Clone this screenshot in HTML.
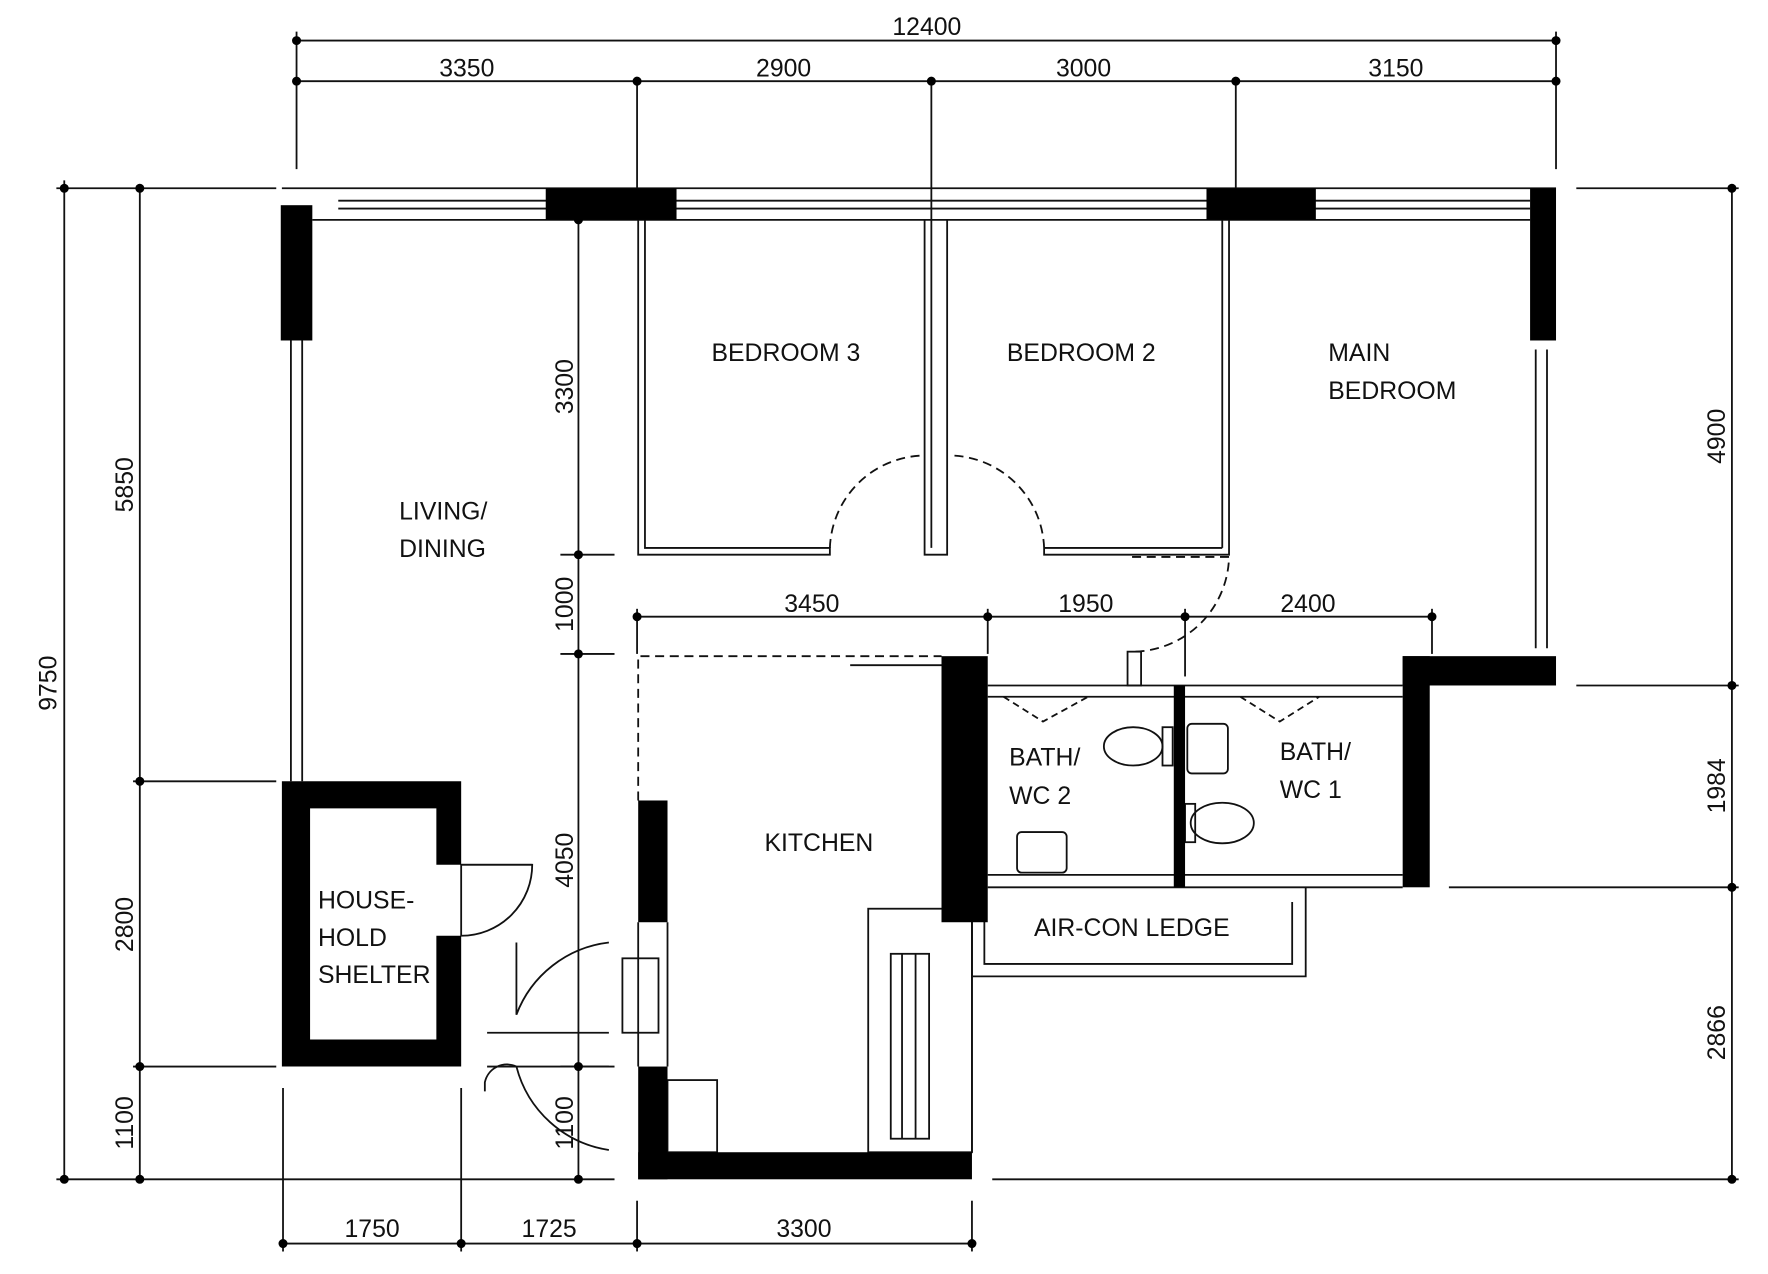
<!DOCTYPE html>
<html><head><meta charset="utf-8"><style>
html,body{margin:0;padding:0;background:#fff;}
svg{display:block;}
text{font-family:"Liberation Sans",sans-serif;font-size:22px;fill:#111;}
</style></head><body>
<svg width="1768" height="1274" viewBox="0 0 1568 1130" preserveAspectRatio="none" xmlns="http://www.w3.org/2000/svg">
<g stroke="#111" stroke-width="1.6" fill="none">
<!-- top dims -->
<line x1="263" y1="36" x2="1380" y2="36"/>
<line x1="263" y1="72" x2="1380" y2="72"/>
<line x1="263" y1="28" x2="263" y2="150"/>
<line x1="1380" y1="28" x2="1380" y2="150"/>
<line x1="565" y1="72" x2="565" y2="195"/>
<line x1="826" y1="72" x2="826" y2="195"/>
<line x1="1096" y1="72" x2="1096" y2="195"/>
<!-- left dims -->
<line x1="57" y1="160" x2="57" y2="1046"/>
<line x1="124" y1="167" x2="124" y2="1046"/>
<line x1="50" y1="167" x2="245" y2="167"/>
<line x1="118" y1="693" x2="245" y2="693"/>
<line x1="118" y1="946" x2="245" y2="946"/>
<line x1="50" y1="1046" x2="545" y2="1046"/>
<!-- right dims -->
<line x1="1536" y1="167" x2="1536" y2="1046"/>
<line x1="1398" y1="167" x2="1542" y2="167"/>
<line x1="1398" y1="608" x2="1542" y2="608"/>
<line x1="1285" y1="787" x2="1542" y2="787"/>
<line x1="880" y1="1046" x2="1542" y2="1046"/>
<!-- interior dim 513 -->
<line x1="513" y1="195" x2="513" y2="1046"/>
<line x1="497" y1="492" x2="545" y2="492"/>
<line x1="497" y1="580" x2="545" y2="580"/>
<line x1="497" y1="946" x2="545" y2="946"/>
<!-- mid dim -->
<line x1="565" y1="547" x2="1270" y2="547"/>
<line x1="565" y1="540" x2="565" y2="580"/>
<line x1="876" y1="540" x2="876" y2="580"/>
<line x1="1051" y1="540" x2="1051" y2="600"/>
<line x1="1270" y1="540" x2="1270" y2="580"/>
<!-- bottom dims -->
<line x1="251" y1="1103" x2="862" y2="1103"/>
<line x1="251" y1="965" x2="251" y2="1110"/>
<line x1="409" y1="965" x2="409" y2="1110"/>
<line x1="565" y1="1065" x2="565" y2="1110"/>
<line x1="862" y1="1065" x2="862" y2="1110"/>
<!-- walls thin -->
<line x1="250" y1="167" x2="1380" y2="167"/>
<line x1="277" y1="195" x2="1357" y2="195"/>
<line x1="300" y1="185" x2="1357" y2="185"/>
<line x1="300" y1="178" x2="1357" y2="178"/>
<line x1="258" y1="302" x2="258" y2="693"/>
<line x1="268" y1="302" x2="268" y2="693"/>
<line x1="1362" y1="310" x2="1362" y2="575"/>
<line x1="1372" y1="310" x2="1372" y2="575"/>
<!-- bedrooms -->
<polyline points="566,195 566,492 736,492 736,486 572,486 572,195"/>
<polyline points="820,195 820,492 840,492 840,195"/>
<line x1="826" y1="195" x2="826" y2="486"/>
<polyline points="926,486 926,492 1090,492 1090,195"/>
<line x1="926" y1="486" x2="1084" y2="486"/>
<line x1="1084" y1="486" x2="1084" y2="195"/>
<path d="M736 486 A85 85 0 0 1 820 404" stroke-dasharray="8 5"/>
<path d="M926 486 A85 85 0 0 0 843 404" stroke-dasharray="8 5"/>
<path d="M1004 494 L1090 494 A86 86 0 0 1 1004 578" stroke-dasharray="8 5"/>
<!-- kitchen -->
<polyline points="566,710 566,582 835,582" stroke-dasharray="8 5"/>
<line x1="754" y1="590" x2="835" y2="590"/>
<line x1="592" y1="818" x2="592" y2="946"/>
<line x1="566" y1="818" x2="566" y2="946"/>
<rect x="552" y="850" width="32" height="66"/>
<rect x="592" y="958" width="44" height="64"/>
<rect x="770" y="806" width="92" height="216"/>
<rect x="790" y="846" width="34" height="164"/>
<line x1="800" y1="846" x2="800" y2="1010"/><line x1="812" y1="846" x2="812" y2="1010"/>
<line x1="862" y1="818" x2="862" y2="1022"/>
<!-- baths -->
<line x1="876" y1="608" x2="1244" y2="608"/>
<line x1="876" y1="618" x2="1244" y2="618"/>
<line x1="876" y1="776" x2="1244" y2="776"/>
<line x1="876" y1="787" x2="1244" y2="787"/>
<polyline points="890,618 925,640 965,618" stroke-dasharray="6 4"/>
<polyline points="1100,618 1135,640 1170,618" stroke-dasharray="6 4"/>
<ellipse cx="1005" cy="662" rx="26" ry="17"/><rect x="1031" y="645" width="9" height="34"/>
<ellipse cx="1084" cy="730" rx="28" ry="18"/><rect x="1051" y="713" width="9" height="34"/>
<rect x="1053" y="642" width="36" height="44" rx="4"/>
<rect x="902" y="738" width="44" height="36" rx="4"/>
<rect x="1000" y="578" width="12" height="30"/>
<!-- aircon ledge -->
<polyline points="862,787 862,866 1158,866 1158,787"/>
<polyline points="873,800 873,855 1146,855 1146,800"/>
<!-- shelter doors -->
<path d="M409 767 L409 830 A63 63 0 0 0 472 767 Z"/>
<line x1="409" y1="767" x2="472" y2="767"/>
<path d="M540 836 A100 100 0 0 0 458 900 L458 836"/>
<line x1="432" y1="916" x2="540" y2="916"/><line x1="432" y1="946" x2="540" y2="946"/>
<path d="M458 946 A20 20 0 0 0 430 960 L430 968"/>
<path d="M458 946 A100 100 0 0 0 540 1020"/>
</g>
<!-- black walls -->
<g fill="#000">
<rect x="249" y="182" width="28" height="120"/>
<rect x="484" y="167" width="116" height="28"/>
<rect x="1070" y="167" width="97" height="28"/>
<rect x="1357" y="167" width="23" height="135"/>
<rect x="1244" y="582" width="136" height="26"/>
<rect x="1244" y="582" width="24" height="205"/>
<rect x="835" y="582" width="41" height="236"/>
<rect x="566" y="710" width="26" height="108"/>
<rect x="566" y="946" width="26" height="100"/>
<rect x="566" y="1022" width="296" height="24"/>
<rect x="1041" y="608" width="10" height="179"/>
<path d="M250 693 H409 V767 H387 V717 H275 V922 H387 V830 H409 V946 H250 Z"/>
</g>
<g fill="#000">
<circle cx="263" cy="36" r="4"/><circle cx="1380" cy="36" r="4"/>
<circle cx="263" cy="72" r="4"/><circle cx="565" cy="72" r="4"/><circle cx="826" cy="72" r="4"/><circle cx="1096" cy="72" r="4"/><circle cx="1380" cy="72" r="4"/>
<circle cx="57" cy="167" r="4"/><circle cx="57" cy="1046" r="4"/>
<circle cx="124" cy="167" r="4"/><circle cx="124" cy="693" r="4"/><circle cx="124" cy="946" r="4"/><circle cx="124" cy="1046" r="4"/>
<circle cx="1536" cy="167" r="4"/><circle cx="1536" cy="608" r="4"/><circle cx="1536" cy="787" r="4"/><circle cx="1536" cy="1046" r="4"/>
<circle cx="513" cy="195" r="4"/><circle cx="513" cy="492" r="4"/><circle cx="513" cy="580" r="4"/><circle cx="513" cy="946" r="4"/><circle cx="513" cy="1046" r="4"/>
<circle cx="565" cy="547" r="4"/><circle cx="876" cy="547" r="4"/><circle cx="1051" cy="547" r="4"/><circle cx="1270" cy="547" r="4"/>
<circle cx="251" cy="1103" r="4"/><circle cx="409" cy="1103" r="4"/><circle cx="565" cy="1103" r="4"/><circle cx="862" cy="1103" r="4"/>
</g>
<g text-anchor="middle">
<text x="822" y="31">12400</text>
<text x="414" y="68">3350</text><text x="695" y="68">2900</text><text x="961" y="68">3000</text><text x="1238" y="68">3150</text>
<text x="720" y="543">3450</text><text x="963" y="543">1950</text><text x="1160" y="543">2400</text>
<text x="330" y="1097">1750</text><text x="487" y="1097">1725</text><text x="713" y="1097">3300</text>
<text transform="translate(50,606) rotate(-90)">9750</text>
<text transform="translate(118,430) rotate(-90)">5850</text>
<text transform="translate(118,820) rotate(-90)">2800</text>
<text transform="translate(118,996) rotate(-90)">1100</text>
<text transform="translate(508,343) rotate(-90)">3300</text>
<text transform="translate(508,536) rotate(-90)">1000</text>
<text transform="translate(508,763) rotate(-90)">4050</text>
<text transform="translate(508,996) rotate(-90)">1100</text>
<text transform="translate(1530,387) rotate(-90)">4900</text>
<text transform="translate(1530,697) rotate(-90)">1984</text>
<text transform="translate(1530,916) rotate(-90)">2866</text>
</g>
<g font-size="23">
<text x="631" y="320">BEDROOM 3</text>
<text x="893" y="320">BEDROOM 2</text>
<text x="1178" y="320">MAIN</text><text x="1178" y="354">BEDROOM</text>
<text x="354" y="461">LIVING/</text><text x="354" y="494">DINING</text>
<text x="678" y="755">KITCHEN</text>
<text x="282" y="806">HOUSE-</text><text x="282" y="839">HOLD</text><text x="282" y="872">SHELTER</text>
<text x="895" y="679">BATH/</text><text x="895" y="713">WC 2</text>
<text x="1135" y="674">BATH/</text><text x="1135" y="708">WC 1</text>
<text x="917" y="830">AIR-CON LEDGE</text>
</g>
</svg>
</body></html>
